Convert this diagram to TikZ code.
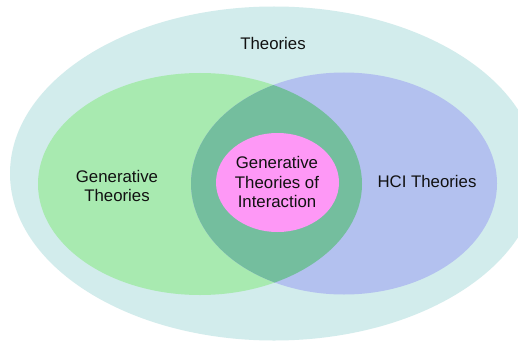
\documentclass[tikz,border=0pt]{standalone}
\usepackage{fontspec}
\setmainfont{Liberation Sans}
\definecolor{outerc}{HTML}{D2ECEC}
\definecolor{greenc}{HTML}{A8EAB0}
\definecolor{bluec}{HTML}{B3C1EF}
\definecolor{lensc}{HTML}{74BE9E}
\definecolor{pinkc}{HTML}{FE98F6}
\definecolor{txtc}{HTML}{111111}
\begin{document}
\begin{tikzpicture}[x=1pt,y=-1pt,
  lbl/.style={text=txtc,font=\fontsize{16.8}{19.8}\selectfont,align=center,inner sep=0pt}]
\useasboundingbox (0,0) rectangle (518,342);
\fill[white] (0,0) rectangle (518,342);
\begin{scope}
  \clip (0,0) rectangle (518,342);
  \fill[outerc] (274,173.5) ellipse [x radius=264, y radius=167];
\end{scope}
\fill[greenc] (200,184) ellipse [x radius=162, y radius=111];
\fill[bluec] (344,183.5) ellipse [x radius=153, y radius=111];
\begin{scope}
  \clip (200,184) ellipse [x radius=162, y radius=111];
  \fill[lensc] (344,183.5) ellipse [x radius=153, y radius=111];
\end{scope}
\fill[pinkc] (277.5,182.5) ellipse [x radius=61.5, y radius=49.5];
\node[lbl] (theories) at (273,43) {Theories};
\node[lbl] (gen) at (117,186) {Generative\\Theories};
\node[lbl] (hci) at (427,181) {HCI Theories};
\node[lbl] (gti) at (277,182) {Generative\\Theories of\\Interaction};
\end{tikzpicture}
\end{document}
